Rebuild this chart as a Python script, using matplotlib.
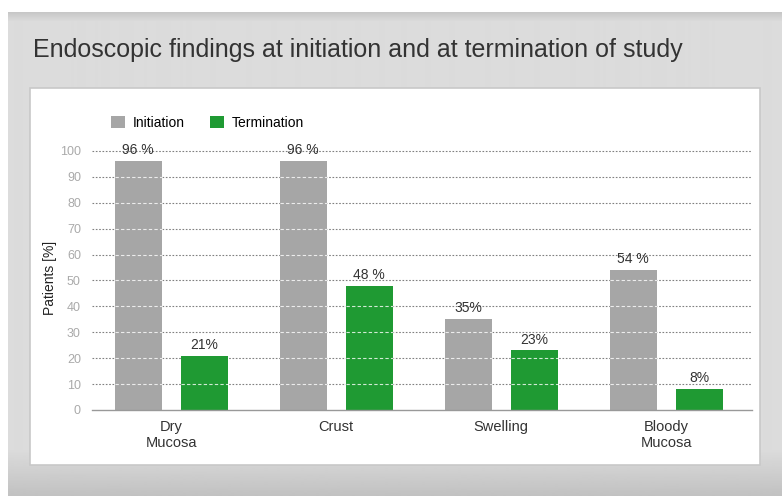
import matplotlib.pyplot as plt
import numpy as np
from matplotlib.patches import Rectangle

# data
categories = ["Dry\nMucosa", "Crust", "Swelling", "Bloody\nMucosa"]
series_labels = ["Initiation", "Termination"]
initiation = [96, 96, 35, 54]
termination = [21, 48, 23, 8]
value_text_init = ["96 %", "96 %", "35%", "54 %"]
value_text_term = ["21%", "48 %", "23%", "8%"]
yticks = [0, 10, 20, 30, 40, 50, 60, 70, 80, 90, 100]

gray = '#a6a6a6'
green = '#1f9a33'
plt.rcParams['font.family'] = ['Liberation Sans', 'DejaVu Sans']

W, H = 782, 496
fig = plt.figure(figsize=(W / 100, H / 100), dpi=100, facecolor='white')

# background frame with a soft vertical gradient
bg = fig.add_axes([0, 0, 1, 1], zorder=-10)
bg.set_xlim(0, W)
bg.set_ylim(H, 0)
bg.axis('off')
grad = np.concatenate([np.linspace(0.78, 0.86, 10), np.full(428, 0.86),
                       np.linspace(0.86, 0.76, 46)])
bg.imshow(grad[:, None], cmap='gray', vmin=0, vmax=1, aspect='auto',
          extent=(8, W, H, 12), interpolation='bilinear')
bg.add_patch(Rectangle((30, 88), 730, 377, facecolor='white',
                       edgecolor='#c8c8c8', lw=1.2))

fig.text(33 / W, 1 - 50 / H, "Endoscopic findings at initiation and at termination of study",
         fontsize=18, color='#333333', va='center', ha='left')

ax = fig.add_axes([92 / W, 1 - 410 / H, (752 - 92) / W, (410 - 145.8) / H])
ax.set_facecolor('none')

x = np.arange(len(categories))
bw = 0.285
off = 0.2
ax.set_xlim(-0.48, 3.52)
ax.set_ylim(0, 102)

for yv in yticks[1:]:
    ax.axhline(yv, color='#808080', lw=0.8, ls=(0, (1.5, 1.5)), zorder=1)

b1 = ax.bar(x - off, initiation, width=bw, color=gray, zorder=2, label=series_labels[0])
b2 = ax.bar(x + off, termination, width=bw, color=green, zorder=2, label=series_labels[1])

# light dashes of the grid showing through the bars
for bars in (b1, b2):
    for r in bars:
        for yv in yticks[1:]:
            if yv < r.get_height() - 1:
                ax.hlines(yv, r.get_x(), r.get_x() + r.get_width(), color='white',
                          lw=0.8, ls=(0, (3, 2)), alpha=0.8, zorder=3)

for r, t in zip(b1, value_text_init):
    ax.text(r.get_x() + r.get_width() / 2, r.get_height() + 1.5, t, ha='center',
            va='bottom', fontsize=10, color='#333333', zorder=4)
for r, t in zip(b2, value_text_term):
    ax.text(r.get_x() + r.get_width() / 2, r.get_height() + 1.5, t, ha='center',
            va='bottom', fontsize=10, color='#333333', zorder=4)

ax.set_yticks(yticks)
ax.set_yticklabels([str(v) for v in yticks], color='#aaaaaa', fontsize=9)
ax.set_xticks(x)
ax.set_xticklabels(categories, fontsize=10.5, color='#333333', linespacing=1.25)
ax.tick_params(axis='y', length=0, pad=8)
ax.tick_params(axis='x', length=0, pad=7)
for s in ['top', 'right', 'left']:
    ax.spines[s].set_visible(False)
ax.spines['bottom'].set_color('#999999')
ax.spines['bottom'].set_linewidth(1.0)
ax.set_ylabel("Patients [%]", fontsize=10, color='#222222', labelpad=2)

ax.legend(loc='lower left', bbox_to_anchor=(0.02, 1.04), ncol=2, frameon=False,
          fontsize=10, handlelength=1.0, handleheight=1.0, columnspacing=1.8,
          handletextpad=0.6, borderaxespad=0)

plt.savefig('out.png', dpi=100, facecolor=fig.get_facecolor())
